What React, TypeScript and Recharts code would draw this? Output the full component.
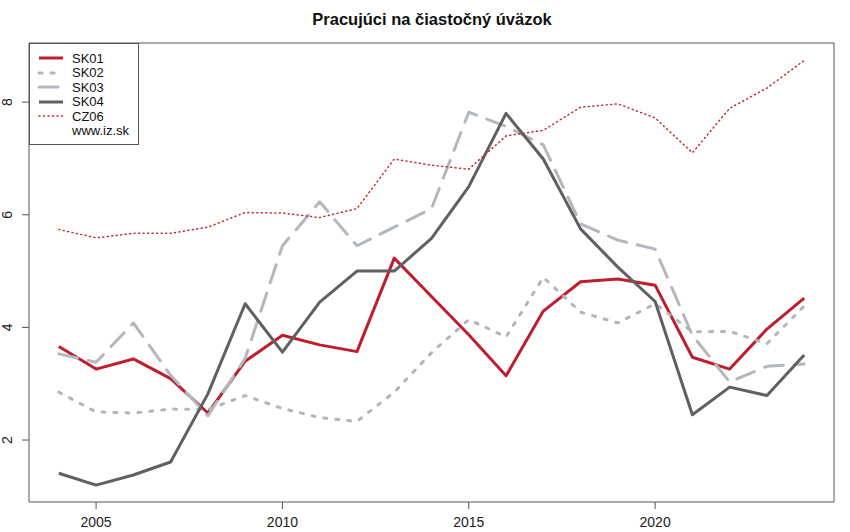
import { LineChart, Line, XAxis, YAxis } from "recharts";

const years = [2004, 2005, 2006, 2007, 2008, 2009, 2010, 2011, 2012, 2013, 2014, 2015, 2016, 2017, 2018, 2019, 2020, 2021, 2022, 2023, 2024];
const sk01 = [3.66, 3.26, 3.44, 3.09, 2.48, 3.40, 3.86, 3.69, 3.57, 5.23, 4.55, 3.87, 3.14, 4.29, 4.81, 4.86, 4.75, 3.47, 3.26, 3.97, 4.52];
const sk02 = [2.85, 2.50, 2.48, 2.55, 2.54, 2.79, 2.56, 2.40, 2.33, 2.85, 3.55, 4.14, 3.83, 4.89, 4.27, 4.08, 4.42, 3.92, 3.93, 3.71, 4.38];
const sk03 = [3.53, 3.38, 4.08, 3.15, 2.43, 3.45, 5.45, 6.23, 5.45, 5.78, 6.11, 7.82, 7.57, 7.24, 5.84, 5.55, 5.39, 3.86, 3.03, 3.31, 3.35];
const sk04 = [1.41, 1.20, 1.38, 1.61, 2.82, 4.42, 3.56, 4.45, 5.00, 5.00, 5.58, 6.50, 7.80, 6.99, 5.75, 5.07, 4.46, 2.45, 2.94, 2.79, 3.51];
const cz06 = [5.74, 5.59, 5.67, 5.67, 5.78, 6.04, 6.03, 5.95, 6.11, 6.99, 6.88, 6.81, 7.40, 7.50, 7.91, 7.97, 7.72, 7.10, 7.89, 8.25, 8.74];

const xTicks = [2005, 2010, 2015, 2020];
const yTicks = [2, 4, 6, 8];
const title = "Pracujúci na čiastočný úväzok";
const credit = "www.iz.sk";

const data = years.map((year, i) => ({
  year,
  SK01: sk01[i],
  SK02: sk02[i],
  SK03: sk03[i],
  SK04: sk04[i],
  CZ06: cz06[i],
}));

const series = [
  { key: "SK01", color: "#be1e2d", width: 3, dash: undefined as string | undefined },
  { key: "SK02", color: "#b1b5bc", width: 3, dash: "3 9" },
  { key: "SK03", color: "#b3b7be", width: 3, dash: "19 11" },
  { key: "SK04", color: "#606060", width: 3, dash: undefined },
  { key: "CZ06", color: "#c8282f", width: 1.5, dash: "1 3.5" },
];

const font = "'Liberation Sans', Arial, Helvetica, sans-serif";
const axisColor = "#555";

const XTick = ({ x, y, payload }: any) => (
  <text x={x} y={y + 16} textAnchor="middle" fontSize={14} fill="#222" fontFamily={font}>
    {payload.value}
  </text>
);

const YTick = ({ x, y, payload }: any) => (
  <text x={x - 8} y={y} textAnchor="middle" fontSize={14} fill="#222" fontFamily={font}
    transform={`rotate(-90 ${x - 8} ${y})`}>
    {payload.value}
  </text>
);

export default function App() {
  return (
    <div style={{ position: "absolute", left: 0, top: 0, width: 850, height: 532, background: "#fff", fontFamily: font }}>
      <div style={{ position: "absolute", left: 29, width: 806, top: 10, textAlign: "center", fontWeight: "bold", fontSize: 16.5, color: "#111" }}>
        {title}
      </div>
      <LineChart width={850} height={532} data={data} margin={{ top: 42, right: 15, bottom: 0, left: 0 }}>
        <XAxis dataKey="year" type="number" domain={[2003.2, 2024.8]} ticks={xTicks} height={30}
          tick={<XTick />} tickSize={7} stroke={axisColor} allowDataOverflow />
        <XAxis xAxisId="top" orientation="top" dataKey="year" type="number" domain={[2003.2, 2024.8]}
          height={1} tick={false} tickLine={false} stroke={axisColor} />
        <YAxis type="number" domain={[0.9, 9.05]} ticks={yTicks} width={29} tick={<YTick />} tickSize={7}
          stroke={axisColor} allowDataOverflow />
        <YAxis yAxisId="right" orientation="right" type="number" domain={[0.9, 9.05]} width={1}
          tick={false} tickLine={false} stroke={axisColor} />
        {series.map((s) => (
          <Line key={s.key} dataKey={s.key} stroke={s.color} strokeWidth={s.width} strokeDasharray={s.dash}
            strokeLinecap={s.dash ? "round" : "butt"} strokeLinejoin="round"
            dot={false} activeDot={false} isAnimationActive={false} type="linear" />
        ))}
      </LineChart>
      <div style={{ position: "absolute", left: 29, top: 43, width: 108, height: 100, border: `1px solid ${axisColor}`, background: "#fff" }}>
        {series.map((s, i) => (
          <div key={s.key} style={{ position: "absolute", left: 0, top: 6 + i * 14.55, height: 16, display: "flex", alignItems: "center" }}>
            <svg width={42} height={16}>
              <line x1={9} x2={33} y1={8} y2={8} stroke={s.color} strokeWidth={s.width} strokeDasharray={s.dash}
                strokeLinecap={s.dash ? "round" : "butt"} />
            </svg>
            <span style={{ fontSize: 13, color: "#111" }}>{s.key}</span>
          </div>
        ))}
        <div style={{ position: "absolute", left: 42, top: 6 + 5 * 14.55, height: 16, display: "flex", alignItems: "center", fontSize: 13, color: "#111" }}>
          {credit}
        </div>
      </div>
    </div>
  );
}
